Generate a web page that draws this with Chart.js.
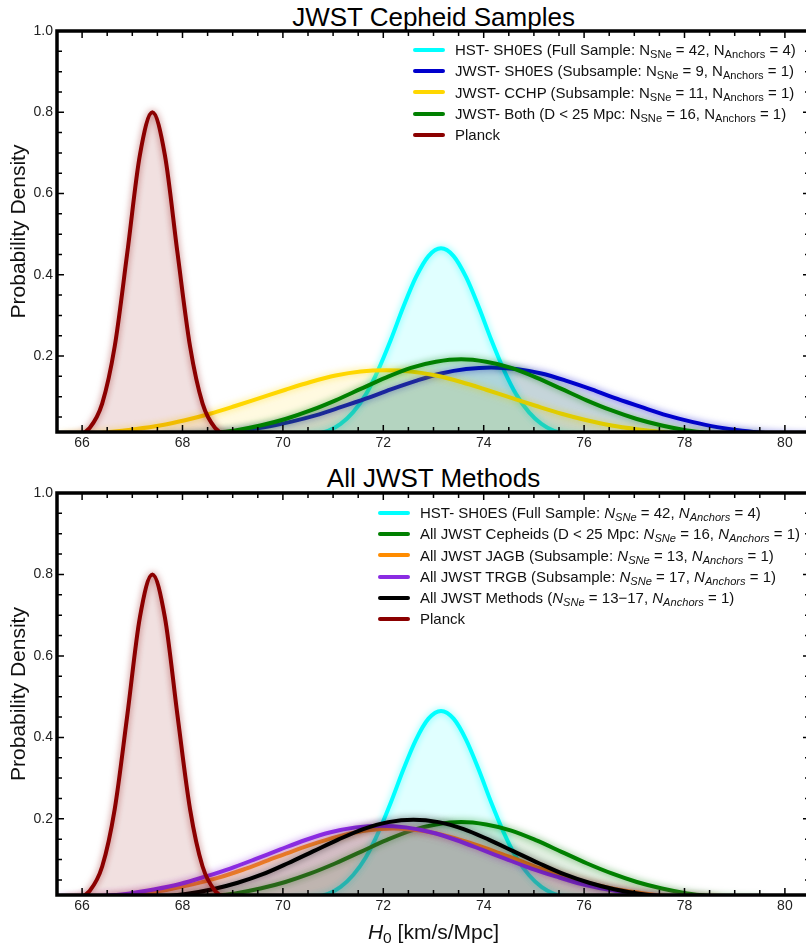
<!DOCTYPE html>
<html>
<head>
<meta charset="utf-8">
<script src="https://cdn.jsdelivr.net/npm/chart.js@4"></script>
<style>
  html, body { margin: 0; padding: 0; background: #fff; }
  body { width: 806px; height: 945px; overflow: hidden; position: relative; font-family: "Liberation Sans", Arial, sans-serif; }
  canvas { position: absolute; left: 0; }
  .title { position: absolute; left: 0; width: 867px; text-align: center; font-size: 26px; line-height: 26px; color: #000; }
  .xlabel { position: absolute; left: 0; width: 867px; text-align: center; font-size: 21px; line-height: 21px; color: #111; }
  .legend { position: absolute; font-size: 15px; color: #111; }
  .legend .row { display: flex; align-items: center; height: 21.3px; line-height: 21.3px; white-space: nowrap; }
  .legend .sw { width: 32px; height: 4px; border-radius: 2px; margin-right: 10px; }
  sub { font-size: 0.74em; vertical-align: -0.28em; line-height: 0; }
</style>
</head>
<body>
<div class="title" style="top:4px">JWST Cepheid Samples</div>
<canvas id="topChart" width="815" height="462" style="top:0"></canvas>
<div class="title" style="top:465px">All JWST Methods</div>
<canvas id="bottomChart" width="815" height="463" style="top:462px"></canvas>
<div class="legend" id="topLegend" style="left:413px; top:39px"></div>
<div class="legend" id="bottomLegend" style="left:378px; top:502px"></div>
<div class="xlabel" style="top:921px"><i>H</i><sub>0</sub> [km/s/Mpc]</div>

<script>
// axis ticks
const xTicks = [66, 68, 70, 72, 74, 76, 78, 80];
const yTicks = [0.2, 0.4, 0.6, 0.8, 1.0];

// Planck
const planckX = [65.65, 65.9, 66.15, 66.4, 66.65, 66.9, 67.15, 67.4, 67.65, 67.9, 68.15, 68.4, 68.65, 68.9, 69.15];
const planckY = [0.001, 0.005, 0.023, 0.083, 0.224, 0.454, 0.694, 0.800, 0.694, 0.454, 0.224, 0.083, 0.023, 0.005, 0.001];

// HST SH0ES full sample
const hstX = [70.15, 70.4, 70.65, 70.9, 71.15, 71.4, 71.65, 71.9, 72.15, 72.4, 72.65, 72.9, 73.15,
              73.4, 73.65, 73.9, 74.15, 74.4, 74.65, 74.9, 75.15, 75.4, 75.65, 75.9, 76.15];
const hstY = [0.001, 0.003, 0.008, 0.016, 0.033, 0.062, 0.105, 0.166, 0.240, 0.321, 0.394, 0.446, 0.465,
              0.446, 0.394, 0.321, 0.240, 0.166, 0.105, 0.062, 0.033, 0.016, 0.008, 0.003, 0.001];

// JWST SH0ES subsample
const jwstShoesX = [67.65, 68.15, 68.65, 69.15, 69.65, 70.15, 70.65, 71.15, 71.65, 72.15, 72.65, 73.15, 73.65, 74.15,
                    74.65, 75.15, 75.65, 76.15, 76.65, 77.15, 77.65, 78.15, 78.65, 79.15, 79.65, 80.15, 80.65];
const jwstShoesY = [0.003, 0.006, 0.010, 0.016, 0.025, 0.038, 0.054, 0.074, 0.095, 0.118, 0.139, 0.157, 0.168, 0.172,
                    0.168, 0.157, 0.139, 0.118, 0.095, 0.074, 0.054, 0.038, 0.025, 0.016, 0.010, 0.006, 0.003];

// JWST CCHP subsample
const cchpX = [65.55, 66.05, 66.55, 67.05, 67.55, 68.05, 68.55, 69.05, 69.55, 70.05, 70.55, 71.05, 71.55, 72.05,
               72.55, 73.05, 73.55, 74.05, 74.55, 75.05, 75.55, 76.05, 76.55, 77.05, 77.55, 78.05, 78.55];
const cchpY = [0.004, 0.008, 0.013, 0.020, 0.029, 0.042, 0.058, 0.077, 0.097, 0.117, 0.136, 0.152, 0.162, 0.165,
               0.162, 0.152, 0.136, 0.117, 0.097, 0.077, 0.058, 0.042, 0.029, 0.020, 0.013, 0.008, 0.004];

// JWST Cepheids, both groups (D < 25 Mpc)
const bothX = [67.55, 68.05, 68.55, 69.05, 69.55, 70.05, 70.55, 71.05, 71.55, 72.05, 72.55, 73.05, 73.55,
               74.05, 74.55, 75.05, 75.55, 76.05, 76.55, 77.05, 77.55, 78.05, 78.55, 79.05, 79.55];
const bothY = [0.003, 0.005, 0.010, 0.017, 0.029, 0.045, 0.066, 0.091, 0.119, 0.147, 0.171, 0.186, 0.192,
               0.186, 0.171, 0.147, 0.119, 0.091, 0.066, 0.045, 0.029, 0.017, 0.010, 0.005, 0.003];

// JWST JAGB
const jagbX = [65.7, 66.2, 66.7, 67.2, 67.7, 68.2, 68.7, 69.2, 69.7, 70.2, 70.7, 71.2, 71.7, 72.2,
               72.7, 73.2, 73.7, 74.2, 74.7, 75.2, 75.7, 76.2, 76.7, 77.2, 77.7, 78.2, 78.7];
const jagbY = [0.003, 0.006, 0.010, 0.017, 0.026, 0.039, 0.055, 0.075, 0.098, 0.121, 0.142, 0.160, 0.172, 0.176,
               0.172, 0.160, 0.142, 0.121, 0.098, 0.075, 0.055, 0.039, 0.026, 0.017, 0.010, 0.006, 0.003];

// JWST TRGB
const trgbX = [65.45, 65.95, 66.45, 66.95, 67.45, 67.95, 68.45, 68.95, 69.45, 69.95, 70.45, 70.95, 71.45, 71.95,
               72.45, 72.95, 73.45, 73.95, 74.45, 74.95, 75.45, 75.95, 76.45, 76.95, 77.45, 77.95, 78.45];
const trgbY = [0.003, 0.006, 0.011, 0.017, 0.027, 0.040, 0.058, 0.078, 0.101, 0.125, 0.148, 0.167, 0.179, 0.183,
               0.179, 0.167, 0.148, 0.125, 0.101, 0.078, 0.058, 0.040, 0.027, 0.017, 0.011, 0.006, 0.003];

// all JWST methods combined
const allX = [66.6, 67.1, 67.6, 68.1, 68.6, 69.1, 69.6, 70.1, 70.6, 71.1, 71.6, 72.1, 72.6,
              73.1, 73.6, 74.1, 74.6, 75.1, 75.6, 76.1, 76.6, 77.1, 77.6, 78.1, 78.6];
const allY = [0.002, 0.005, 0.009, 0.016, 0.027, 0.043, 0.064, 0.091, 0.120, 0.149, 0.175, 0.192, 0.198,
              0.192, 0.175, 0.149, 0.120, 0.091, 0.064, 0.043, 0.027, 0.016, 0.009, 0.005, 0.002];

const topLabels = [
  'HST- SH0ES (Full Sample: N<sub>SNe</sub> = 42, N<sub>Anchors</sub> = 4)',
  'JWST- SH0ES (Subsample: N<sub>SNe</sub> = 9, N<sub>Anchors</sub> = 1)',
  'JWST- CCHP (Subsample: N<sub>SNe</sub> = 11, N<sub>Anchors</sub> = 1)',
  'JWST- Both (D &lt; 25 Mpc: N<sub>SNe</sub> = 16, N<sub>Anchors</sub> = 1)',
  'Planck'
];
const bottomLabels = [
  'HST- SH0ES (Full Sample: <i>N<sub>SNe</sub></i> = 42, <i>N<sub>Anchors</sub></i> = 4)',
  'All JWST Cepheids (D &lt; 25 Mpc: <i>N<sub>SNe</sub></i> = 16, <i>N<sub>Anchors</sub></i> = 1)',
  'All JWST JAGB (Subsample: <i>N<sub>SNe</sub></i> = 13, <i>N<sub>Anchors</sub></i> = 1)',
  'All JWST TRGB (Subsample: <i>N<sub>SNe</sub></i> = 17, <i>N<sub>Anchors</sub></i> = 1)',
  'All JWST Methods (<i>N<sub>SNe</sub></i> = 13\u221217, <i>N<sub>Anchors</sub></i> = 1)',
  'Planck'
];

const colors = {
  hst: [0, 255, 255],
  shoes: [0, 0, 205],
  cchp: [255, 215, 0],
  both: [0, 128, 0],
  planck: [139, 0, 0],
  jagb: [255, 140, 0],
  trgb: [138, 43, 226],
  all: [0, 0, 0]
};

function rgba(c, a) { return `rgba(${c[0]},${c[1]},${c[2]},${a})`; }

function curve(xs, ys, c, i) {
  return {
    data: xs.map((x, k) => ({ x: x, y: ys[k] })),
    borderColor: rgba(c, 1),
    backgroundColor: rgba(c, 0.12),
    glowColor: rgba(c, 0.55),
    borderWidth: 4,
    fill: 'origin',
    pointRadius: 0,
    cubicInterpolationMode: 'monotone',
    order: -i
  };
}

// soft halo around each line
const glowPlugin = {
  id: 'glow',
  beforeDatasetDraw(chart, args) {
    const ds = chart.data.datasets[args.index];
    chart.ctx.save();
    chart.ctx.shadowColor = ds.glowColor;
    chart.ctx.shadowBlur = 7;
  },
  afterDatasetDraw(chart) {
    chart.ctx.restore();
  }
};

// thick box with inward ticks on all sides
const framePlugin = {
  id: 'frame',
  afterDatasetsDraw(chart) {
    const { ctx, chartArea: a, scales } = chart;
    const x = scales.x, y = scales.y;
    ctx.save();
    ctx.strokeStyle = '#000';
    ctx.lineWidth = 1.5;
    ctx.beginPath();
    for (let k = 0; k <= 30; k++) {
      const v = 65.5 + k * 0.5;
      const px = x.getPixelForValue(v);
      const len = xTicks.includes(v) ? 7 : 5;
      ctx.moveTo(px, a.bottom); ctx.lineTo(px, a.bottom - len);
      ctx.moveTo(px, a.top); ctx.lineTo(px, a.top + len);
    }
    for (let k = 1; k <= 20; k++) {
      const py = y.getPixelForValue(k * 0.05);
      const len = k % 4 === 0 ? 7 : 5;
      ctx.moveTo(a.left, py); ctx.lineTo(a.left + len, py);
      ctx.moveTo(a.right, py); ctx.lineTo(a.right - len, py);
    }
    ctx.stroke();
    ctx.lineWidth = 3.5;
    ctx.strokeRect(a.left, a.top, a.right - a.left, a.bottom - a.top);
    ctx.restore();
  }
};

function makeOptions() {
  return {
    responsive: false,
    animation: false,
    events: [],
    layout: { padding: { top: 31, right: 5, left: 0, bottom: 0 } },
    plugins: { legend: { display: false }, tooltip: { enabled: false } },
    scales: {
      x: {
        type: 'linear',
        min: 65.5,
        max: 80.5,
        grid: { display: false, drawTicks: false },
        border: { display: false },
        afterBuildTicks: s => { s.ticks = xTicks.map(v => ({ value: v })); },
        afterFit: s => { s.height = 30; },
        ticks: { padding: 3, color: '#222', font: { family: 'Liberation Sans', size: 14 }, maxRotation: 0 }
      },
      y: {
        min: 0.013,
        max: 1.0,
        grid: { display: false, drawTicks: false },
        border: { display: false },
        afterBuildTicks: s => { s.ticks = yTicks.map(v => ({ value: v })); },
        afterFit: s => { s.width = 57; },
        ticks: { padding: 4, color: '#222', font: { family: 'Liberation Sans', size: 14 }, callback: v => v.toFixed(1) },
        title: { display: true, text: 'Probability Density', color: '#111', padding: { top: 7, bottom: 0 },
                 font: { family: 'Liberation Sans', size: 21 } }
      }
    }
  };
}

const topSets = [
  curve(hstX, hstY, colors.hst, 0),
  curve(jwstShoesX, jwstShoesY, colors.shoes, 1),
  curve(cchpX, cchpY, colors.cchp, 2),
  curve(bothX, bothY, colors.both, 3),
  curve(planckX, planckY, colors.planck, 4)
];
const bottomSets = [
  curve(hstX, hstY, colors.hst, 0),
  curve(bothX, bothY, colors.both, 1),
  curve(jagbX, jagbY, colors.jagb, 2),
  curve(trgbX, trgbY, colors.trgb, 3),
  curve(allX, allY, colors.all, 4),
  curve(planckX, planckY, colors.planck, 5)
];

new Chart(document.getElementById('topChart'), {
  type: 'line',
  data: { datasets: topSets },
  options: makeOptions(),
  plugins: [glowPlugin, framePlugin]
});
new Chart(document.getElementById('bottomChart'), {
  type: 'line',
  data: { datasets: bottomSets },
  options: makeOptions(),
  plugins: [glowPlugin, framePlugin]
});

function buildLegend(id, labels, sets) {
  document.getElementById(id).innerHTML = labels.map((t, i) =>
    `<div class="row"><div class="sw" style="background:${sets[i].borderColor}"></div><span>${t}</span></div>`
  ).join('');
}
buildLegend('topLegend', topLabels, topSets);
buildLegend('bottomLegend', bottomLabels, bottomSets);
</script>
</body>
</html>
